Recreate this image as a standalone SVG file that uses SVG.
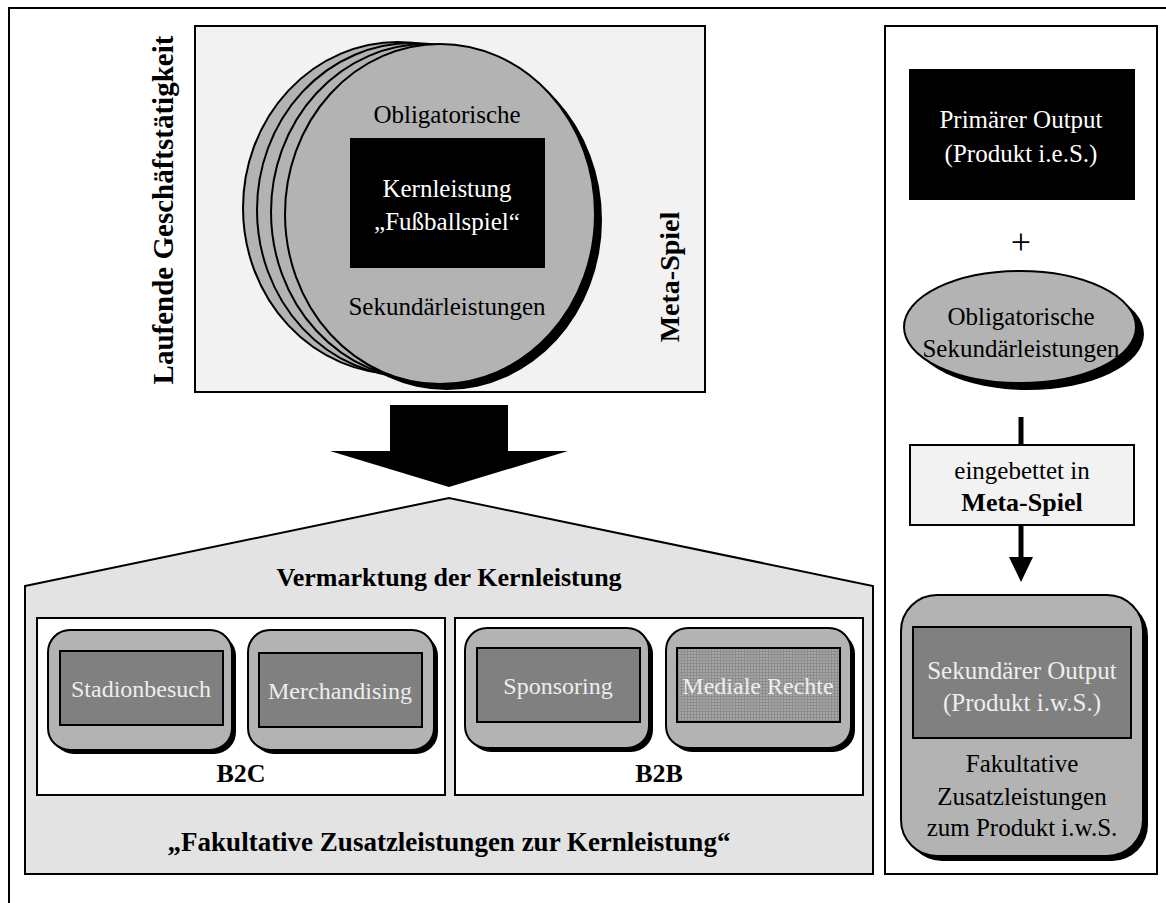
<svg xmlns="http://www.w3.org/2000/svg" width="1166" height="903" viewBox="0 0 1166 903">
<style>
text{font-family:"Liberation Serif","Times New Roman",serif;text-anchor:middle}
.b{font-weight:bold}
.r{font-size:25px;fill:#000}
.w{font-size:25px;fill:#fff}
.lt{font-size:25px;fill:#eeeeee}
.nl{font-size:24px;fill:#eeeeee}
.frame{fill:none;stroke:#000;stroke-width:2}
.node{fill:#b3b3b3;stroke:#000;stroke-width:2}
.shadow{fill:#000}
.inner{fill:#808080;stroke:#000;stroke-width:2}
</style>
<defs>
<pattern id="grid" width="3" height="3" patternUnits="userSpaceOnUse">
<rect width="3" height="3" fill="#a6a6a6"/>
<rect x="0" y="0" width="1" height="3" fill="#8c8c8c"/>
<rect x="0" y="0" width="3" height="1" fill="#8c8c8c"/>
</pattern>
</defs>
<rect width="1166" height="903" fill="#fff"/>
<path d="M1170,8 H9 V910" class="frame"/>

<g id="top-box">
<rect x="195" y="26" width="510" height="366" fill="#f2f2f2" stroke="#000" stroke-width="2"/>
<text class="b" font-size="29" transform="translate(173,210) rotate(-90)">Laufende Geschäftstätigkeit</text>
<text class="b" font-size="28" transform="translate(679,277) rotate(-90)">Meta-Spiel</text>
</g>

<g id="core-circle">
<ellipse cx="398" cy="208" rx="155" ry="166" fill="#b3b3b3" stroke="#000" stroke-width="2"/>
<ellipse cx="412" cy="210" rx="155" ry="167" fill="#b3b3b3" stroke="#000" stroke-width="2"/>
<ellipse cx="426" cy="212" rx="155" ry="168" fill="#b3b3b3" stroke="#000" stroke-width="2"/>
<ellipse cx="447" cy="220" rx="155" ry="170" class="shadow"/>
<ellipse cx="440" cy="214" rx="155" ry="170" fill="#b3b3b3" stroke="#000" stroke-width="2"/>
<rect x="350" y="138" width="195" height="130" fill="#000"/>
<text class="r" x="447" y="123">Obligatorische</text>
<text class="w" x="447" y="197">Kernleistung</text>
<text class="w" x="447" y="230">„Fußballspiel“</text>
<text class="r" x="447" y="315">Sekundärleistungen</text>
</g>

<g id="house">
<polygon points="25,586 449,498 873,586 873,874 25,874" fill="#e3e3e3" stroke="#000" stroke-width="2"/>
<text class="b" font-size="26" x="449" y="586">Vermarktung der Kernleistung</text>
<text class="b" font-size="27" x="449" y="851">„Fakultative Zusatzleistungen zur Kernleistung“</text>
</g>

<g id="b2c">
<rect x="37" y="618" width="408" height="177" fill="#fff" stroke="#000" stroke-width="2"/>
<text class="b" font-size="26" x="241" y="782">B2C</text>
</g>
<g id="b2b">
<rect x="455" y="618" width="408" height="177" fill="#fff" stroke="#000" stroke-width="2"/>
<text class="b" font-size="26" x="659" y="782">B2B</text>
</g>

<g id="stadionbesuch">
<rect x="52" y="634" width="184" height="120" rx="22" class="shadow"/>
<rect x="48" y="630" width="184" height="120" rx="22" class="node"/>
<rect x="60" y="651" width="163" height="74" class="inner"/>
<text class="nl" x="141" y="697">Stadionbesuch</text>
</g>
<g id="merchandising">
<rect x="252" y="634" width="186" height="120" rx="22" class="shadow"/>
<rect x="248" y="630" width="186" height="120" rx="22" class="node"/>
<rect x="259" y="653" width="163" height="74" class="inner"/>
<text class="nl" x="340" y="699">Merchandising</text>
</g>
<g id="sponsoring">
<rect x="469" y="632" width="184" height="120" rx="22" class="shadow"/>
<rect x="465" y="628" width="184" height="120" rx="22" class="node"/>
<rect x="477" y="648" width="163" height="74" class="inner"/>
<text class="nl" x="558" y="694">Sponsoring</text>
</g>
<g id="mediale-rechte">
<rect x="670" y="632" width="185" height="120" rx="22" class="shadow"/>
<rect x="666" y="628" width="185" height="120" rx="22" class="node"/>
<rect x="677" y="648" width="163" height="74" fill="url(#grid)" stroke="#000" stroke-width="2"/>
<text class="nl" x="758" y="694">Mediale Rechte</text>
</g>

<g id="right-panel">
<rect x="885" y="26" width="272" height="848" fill="#fff" stroke="#000" stroke-width="2"/>
</g>
<g id="primaerer-output">
<rect x="909" y="69" width="226" height="131" fill="#000"/>
<text class="w" font-size="26" x="1021" y="128">Primärer Output</text>
<text class="w" font-size="26" x="1021" y="162">(Produkt i.e.S.)</text>
</g>
<g id="plus">
<text x="1021" y="254" font-size="36" fill="#000">+</text>
</g>
<g id="obligatorische">
<ellipse cx="1028" cy="334" rx="116" ry="56" class="shadow"/>
<ellipse cx="1020" cy="327" rx="116" ry="56" fill="#b3b3b3" stroke="#000" stroke-width="2"/>
<text class="r" font-size="26" x="1021" y="325">Obligatorische</text>
<text class="r" font-size="26" x="1021" y="357">Sekundärleistungen</text>
</g>
<g id="eingebettet">
<rect x="910" y="445" width="224" height="80" fill="#f2f2f2" stroke="#000" stroke-width="2"/>
<text class="r" font-size="26" x="1022" y="479">eingebettet in</text>
<text class="b" font-size="26" x="1022" y="511">Meta-Spiel</text>
</g>
<g id="sekundaerer-output">
<rect x="906" y="600" width="242" height="261" rx="36" class="shadow"/>
<rect x="901" y="595" width="242" height="261" rx="36" class="node"/>
<rect x="913" y="627" width="218" height="111" class="inner"/>
<text class="lt" font-size="26" x="1022" y="679">Sekundärer Output</text>
<text class="lt" font-size="26" x="1022" y="711">(Produkt i.w.S.)</text>
<text class="r" font-size="26" x="1022" y="772">Fakultative</text>
<text class="r" font-size="26" x="1022" y="805">Zusatzleistungen</text>
<text class="r" font-size="26" x="1022" y="836">zum Produkt i.w.S.</text>
</g>

<g id="connectors">
<polygon points="390,405 508,405 508,451 568,451 449,487 330,451 390,451" fill="#000"/>
<line x1="1021" y1="417" x2="1021" y2="445" stroke="#000" stroke-width="5"/>
<line x1="1021" y1="525" x2="1021" y2="558" stroke="#000" stroke-width="5"/>
<polygon points="1009,557 1033,557 1021,582" fill="#000"/>
</g>
</svg>
